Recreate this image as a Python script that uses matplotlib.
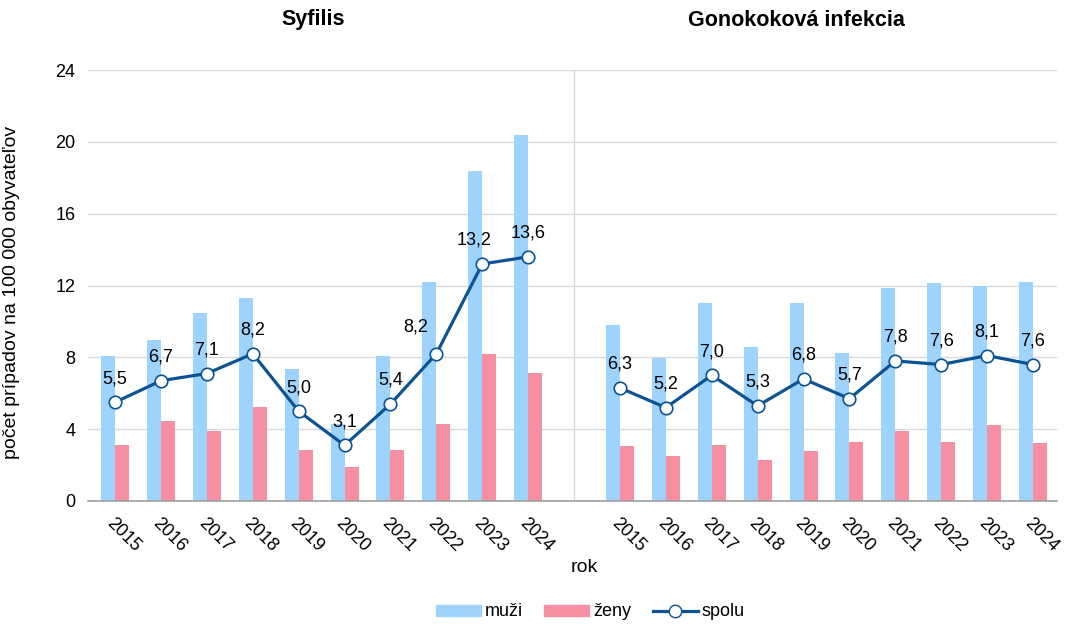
import matplotlib
matplotlib.use("Agg")
import matplotlib.pyplot as plt
from matplotlib.lines import Line2D
from matplotlib.patches import Patch
import numpy as np

plt.rcParams['font.family'] = ['Liberation Sans', 'DejaVu Sans']

years = ["2015", "2016", "2017", "2018", "2019", "2020", "2021", "2022", "2023", "2024"]
groups = ["Syfilis", "Gonokoková infekcia"]

syf_muzi = [8.07, 8.96, 10.47, 11.3, 7.35, 4.29, 8.07, 12.2, 18.37, 20.4]
syf_zeny = [3.1, 4.45, 3.9, 5.23, 2.84, 1.9, 2.84, 4.29, 8.18, 7.13]
syf_spolu = [5.5, 6.7, 7.1, 8.2, 5.0, 3.1, 5.4, 8.2, 13.2, 13.6]

gon_muzi = [9.8, 7.96, 11.02, 8.57, 11.02, 8.24, 11.86, 12.14, 11.97, 12.19]
gon_zeny = [3.06, 2.5, 3.12, 2.28, 2.78, 3.29, 3.9, 3.29, 4.23, 3.23]
gon_spolu = [6.3, 5.2, 7.0, 5.3, 6.8, 5.7, 7.8, 7.6, 8.1, 7.6]

yticks = [0, 4, 8, 12, 16, 20, 24]

c_muzi = "#9dd3fd"
c_zeny = "#f68fa1"
c_line = "#0b5394"

fig = plt.figure(figsize=(10.67, 6.26), dpi=100)
ax = fig.add_axes([0.0825, 0.1997, 0.908, 0.6883])

n = len(years)
x1 = np.arange(n)
x2 = np.arange(n) + n + 1
bw = 0.305

ax.bar(x1 - bw / 2, syf_muzi, bw, color=c_muzi, zorder=2)
ax.bar(x1 + bw / 2, syf_zeny, bw, color=c_zeny, zorder=2)
ax.bar(x2 - bw / 2, gon_muzi, bw, color=c_muzi, zorder=2)
ax.bar(x2 + bw / 2, gon_zeny, bw, color=c_zeny, zorder=2)

for xs, ys in ((x1, syf_spolu), (x2, gon_spolu)):
    ax.plot(xs, ys, color=c_line, lw=2.3, marker='o', ms=9, mfc='white',
            mec=c_line, mew=1.2, zorder=4)

# label offsets in points (style)
offs1 = {7: (-15, 19), 8: (-6, 17)}
for xs, ys, offs in ((x1, syf_spolu, offs1), (x2, gon_spolu, {})):
    for i, (xv, yv) in enumerate(zip(xs, ys)):
        dx, dy = offs.get(i, (0, 17))
        ax.annotate(f"{yv:.1f}".replace('.', ','), (xv, yv), xytext=(dx, dy),
                    textcoords='offset points', ha='center', va='center',
                    fontsize=13, color='black', zorder=5)

ax.set_xlim(-0.59, 2 * n + 0.52)
ax.set_ylim(0, 24)
ax.set_yticks(yticks)
ax.set_yticklabels([str(t) for t in yticks], fontsize=13)
ax.yaxis.grid(True, color='#d9d9d9', lw=1, zorder=0)
ax.axvline(n, color='#d9d9d9', lw=1, zorder=0)

ax.set_xticks(list(x1) + list(x2))
ax.set_xticklabels(years + years, rotation=-45, ha='left', rotation_mode='anchor',
                   fontsize=13)
ax.tick_params(axis='x', length=0, pad=10)
ax.tick_params(axis='y', length=0, pad=9)
for s in ('top', 'right', 'left'):
    ax.spines[s].set_visible(False)
ax.spines['bottom'].set_color('#a0a0a0')
ax.spines['bottom'].set_linewidth(1.2)

ax.set_xlabel("rok", fontsize=14)
ax.xaxis.set_label_coords(0.512, -0.1346)
ax.set_ylabel("počet prípadov na 100 000 obyvateľov", fontsize=14)
ax.yaxis.set_label_coords(-0.070, 0.485)

fig.text(313 / 1067, 1 - 20 / 626, groups[0], ha='center', va='center',
         fontsize=15.5, fontweight='bold')
fig.text(796 / 1067, 1 - 20 / 626, groups[1], ha='center', va='center',
         fontsize=15.5, fontweight='bold')

handles = [Patch(color=c_muzi), Patch(color=c_zeny),
           Line2D([0], [0], color=c_line, lw=2.3, marker='o', ms=9, mfc='white',
                  mec=c_line)]
fig.legend(handles, ["muži", "ženy", "spolu"], loc='center',
           bbox_to_anchor=(590 / 1067, 1 - 612 / 626), ncol=3, frameon=False,
           fontsize=13, handlelength=2.5, handleheight=0.55, columnspacing=1.2,
           handletextpad=0.2)

fig.savefig("out.png", dpi=100)
